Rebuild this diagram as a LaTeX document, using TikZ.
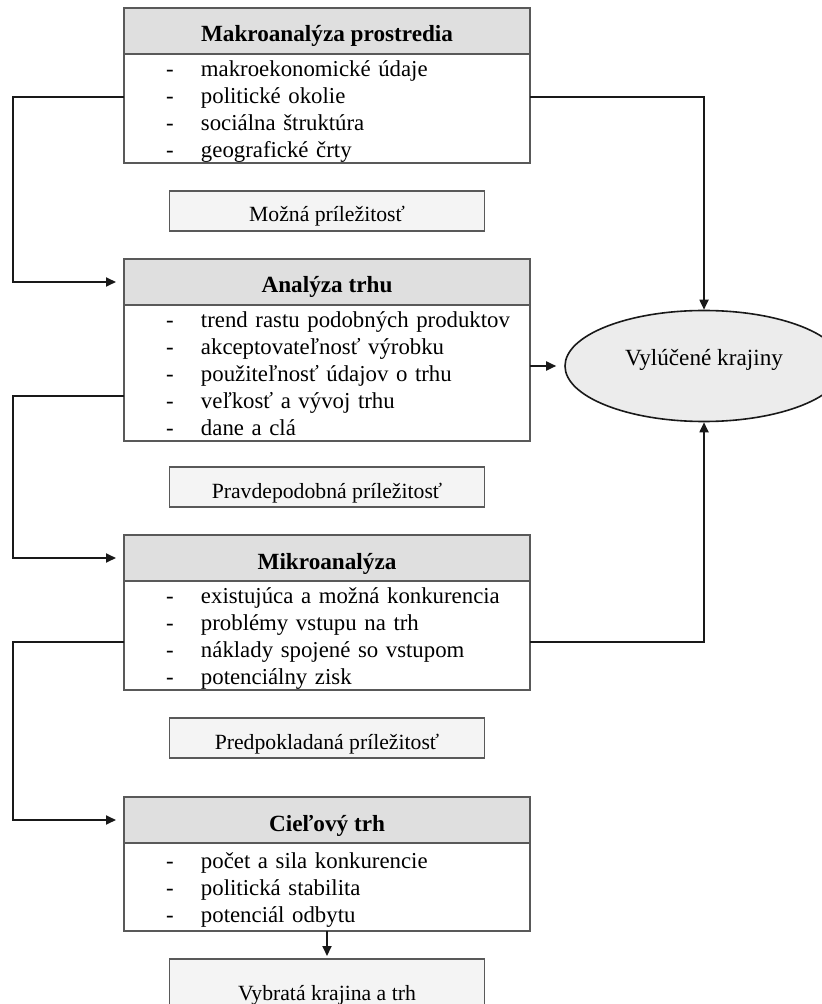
\documentclass[tikz,border=0pt]{standalone}
\usepackage{fontspec}
\setmainfont{Liberation Serif}
\usetikzlibrary{positioning, calc, shapes.geometric, arrows.meta}

\begin{document}
\begin{tikzpicture}[
    x=0.5pt, y=-0.5pt,
    >={Triangle[length=5pt,width=4.5pt]},
    node distance=14pt,
    line width=0.8pt,
    stagehead/.style={draw=black!65, fill=gray!25, minimum width=203pt,
        minimum height=23pt, inner sep=0pt, outer sep=0pt,
        text height=11pt, text depth=0pt,
        font=\fontsize{11.6}{13.35}\selectfont\bfseries},
    itemsbox/.style={draw=black!65, fill=white, text width=203pt,
        inner xsep=0pt, inner ysep=0.25pt, outer sep=0pt,
        font=\fontsize{11.4}{13.5}\selectfont},
    outcome/.style={draw=black!65, fill=gray!9, minimum width=157.5pt,
        minimum height=20pt, inner sep=0pt, outer sep=0pt,
        text height=11pt, text depth=0pt,
        font=\fontsize{10.85}{12.5}\selectfont},
    conn/.style={->, draw=black!90, line width=0.9pt}
]
\useasboundingbox (0,0) rectangle (821,1004);

% Define nodes
\node (makrohead) [stagehead] at (327,31) {Makroanalýza prostredia};
\node (makrolist) [itemsbox, below=0pt of makrohead] {%
\raisebox{-1.5pt}[\height][\depth]{\begin{tabular}{@{\hspace{21pt}}l@{\hspace{13.7pt}}l}
- & makroekonomické údaje\\
- & politické okolie\\
- & sociálna štruktúra\\
- & geografické črty
\end{tabular}}};
\node (mozna) [outcome, below=of makrolist] {Možná príležitosť};

\node (analyzahead) [stagehead, below=of mozna] {Analýza trhu};
\node (analyzalist) [itemsbox, below=0pt of analyzahead] {%
\raisebox{-1.5pt}[\height][\depth]{\begin{tabular}{@{\hspace{21pt}}l@{\hspace{13.7pt}}l}
- & trend rastu podobných produktov\\
- & akceptovateľnosť výrobku\\
- & použiteľnosť údajov o trhu\\
- & veľkosť a vývoj trhu\\
- & dane a clá
\end{tabular}}};
\node (pravdep) [outcome, below=13pt of analyzalist] {Pravdepodobná príležitosť};

\node (mikrohead) [stagehead, below=of pravdep] {Mikroanalýza};
\node (mikrolist) [itemsbox, below=0pt of mikrohead] {%
\raisebox{-1.5pt}[\height][\depth]{\begin{tabular}{@{\hspace{21pt}}l@{\hspace{13.7pt}}l}
- & existujúca a možná konkurencia\\
- & problémy vstupu na trh\\
- & náklady spojené so vstupom\\
- & potenciálny zisk
\end{tabular}}};
\node (predpokl) [outcome, below=of mikrolist] {Predpokladaná príležitosť};

\node (cielhead) [stagehead, below=19.5pt of predpokl] {Cieľový trh};
\node (cielist) [itemsbox, below=0pt of cielhead, minimum height=44pt] {%
\raisebox{-1.5pt}[\height][\depth]{\begin{tabular}{@{\hspace{21pt}}l@{\hspace{13.7pt}}l}
- & počet a sila konkurencie\\
- & politická stabilita\\
- & potenciál odbytu
\end{tabular}}};
\node (vybrata) [outcome, below=of cielist, minimum height=30pt] {Vybratá krajina a trh};

% Excluded countries
\node (vylucene) [ellipse, draw=black!90, fill=gray!15, minimum width=139pt,
    minimum height=55.5pt, text height=5pt, text depth=5pt,
    font=\fontsize{11.6}{13.35}\selectfont]
    at (704,366) {Vylúčené krajiny};

% Left rail edges
\draw[conn, shorten >=4pt] ([yshift=-21.5pt]makrolist.north west) -- ++(-111,0) |- (analyzahead.west);
\draw[conn, shorten >=4pt] ([yshift=-45.5pt]analyzalist.north west) -- ++(-111,0) |- (mikrohead.west);
\draw[conn, shorten >=4pt] ([yshift=-30.5pt]mikrolist.north west) -- ++(-111,0) |- (cielhead.west);

% Edges to excluded countries
\draw[conn] ([yshift=-21.5pt]makrolist.north east) -| (vylucene.north);
\draw[conn, shorten >=4pt] (analyzalist.east |- vylucene.west) -- (vylucene.west);
\draw[conn] ([yshift=-30.5pt]mikrolist.north east) -| (vylucene.south);

% Final step
\draw[conn, shorten >=1.5pt] (cielist.south) -- (vybrata.north);

\end{tikzpicture}
\end{document}
